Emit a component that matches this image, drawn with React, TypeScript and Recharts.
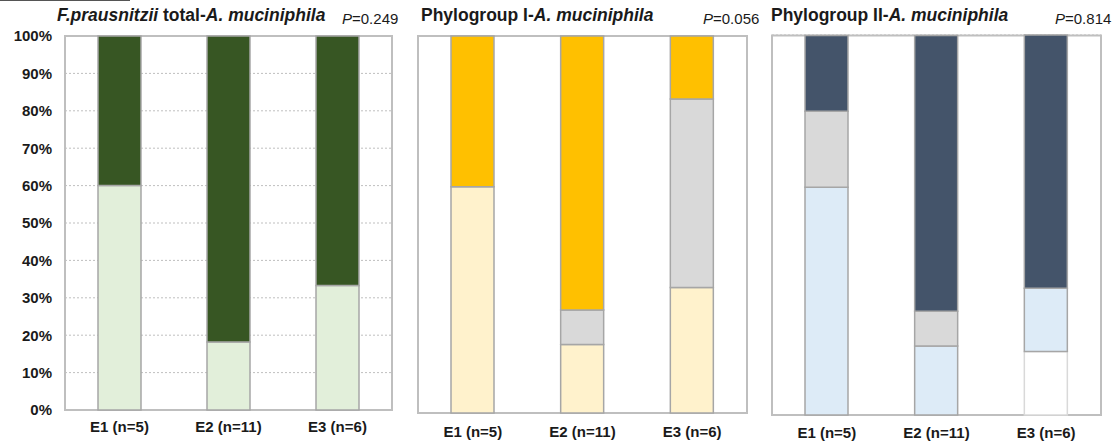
import { BarChart, Bar, XAxis, YAxis, CartesianGrid, ReferenceArea } from 'recharts'

const categories = ['E1 (n=5)', 'E2 (n=11)', 'E3 (n=6)']
const yTicks = [0, 0.1, 0.2, 0.3, 0.4, 0.5, 0.6, 0.7, 0.8, 0.9, 1]

// F. prausnitzii total
const fpLow = [0.6, 0.182, 0.333]
const fpHigh = [0.4, 0.818, 0.667]

// Phylogroup I
const pg1Low = [0.6, 0.182, 0.333]
const pg1Mid = [0, 0.091, 0.5]
const pg1High = [0.4, 0.727, 0.167]

// Phylogroup II
const pg2None = [0, 0, 0.167]
const pg2Low = [0.6, 0.182, 0.167]
const pg2Mid = [0.2, 0.091, 0]
const pg2High = [0.2, 0.727, 0.667]

const FONT = '"Liberation Sans", Arial, sans-serif'
const BAR_STROKE = '#A6A6A6'
const FRAME = '#BFBFBF'

interface Series {
  key: string
  fill: string
  stroke?: string
}

interface PanelProps {
  data: Record<string, unknown>[]
  series: Series[]
  left: number
  width: number
  top: number
  bottom: number
  plotLeft: number
  plotRight: number
  labelGap?: number
  showYTicks?: boolean
}

function Panel({ data, series, left, width, top, bottom, plotLeft, plotRight, labelGap = 5, showYTicks }: PanelProps) {
  const height = 446
  const yWidth = plotLeft - left
  return (
    <div style={{ position: 'absolute', left, top: 0 }}>
      <BarChart
        width={width}
        height={height}
        data={data}
        margin={{ top, right: left + width - plotRight, left: 0, bottom: 0 }}
        barSize={43}
      >
        <CartesianGrid vertical={false} stroke={FRAME} strokeDasharray="2 2" />
        <XAxis
          dataKey="name"
          height={height - bottom}
          axisLine={false}
          tickLine={false}
          tickMargin={labelGap}
          interval={0}
          tick={{ fontSize: 15, fontWeight: 700, fill: '#1a1a1a', fontFamily: FONT }}
        />
        <YAxis
          width={yWidth}
          domain={[0, 1]}
          ticks={yTicks}
          axisLine={false}
          tickLine={false}
          tickMargin={7}
          tick={showYTicks ? { fontSize: 15, fontWeight: 700, fill: '#1a1a1a', fontFamily: FONT } : false}
          tickFormatter={(v: number) => `${Math.round(v * 100)}%`}
        />
        {series.map((s) => (
          <Bar
            key={s.key}
            dataKey={s.key}
            stackId="a"
            fill={s.fill}
            stroke={s.stroke || BAR_STROKE}
            strokeWidth={1.5}
            isAnimationActive={false}
          />
        ))}
        <ReferenceArea y1={0} y2={1} fill="none" stroke={FRAME} strokeWidth={2} />
      </BarChart>
    </div>
  )
}

const fpData = categories.map((name, i) => ({ name, low: fpLow[i], high: fpHigh[i] }))
const pg1Data = categories.map((name, i) => ({ name, low: pg1Low[i], mid: pg1Mid[i], high: pg1High[i] }))
const pg2Data = categories.map((name, i) => ({
  name,
  none: pg2None[i],
  low: pg2Low[i],
  mid: pg2Mid[i],
  high: pg2High[i],
}))

const titleStyle = {
  position: 'absolute' as const,
  top: 5,
  fontSize: 17.5,
  fontWeight: 700,
  lineHeight: '20px',
  color: '#1a1a1a',
  whiteSpace: 'nowrap' as const,
}

const pStyle = {
  position: 'absolute' as const,
  top: 9,
  fontSize: 15,
  lineHeight: '20px',
  color: '#1a1a1a',
  whiteSpace: 'nowrap' as const,
}

export default function App() {
  return (
    <div
      style={{
        position: 'fixed',
        left: 0,
        top: 0,
        width: 1120,
        height: 446,
        background: '#fff',
        fontFamily: FONT,
        overflow: 'hidden',
      }}
    >
      <div style={{ position: 'absolute', left: 0, top: 0, width: 130, height: 1, background: '#555' }} />

      <Panel
        data={fpData}
        series={[
          { key: 'low', fill: '#E2EFDA' },
          { key: 'high', fill: '#375623' },
        ]}
        left={0}
        width={400}
        top={36}
        bottom={410}
        plotLeft={65}
        plotRight={392}
        showYTicks
      />
      <Panel
        data={pg1Data}
        series={[
          { key: 'low', fill: '#FFF2CC' },
          { key: 'mid', fill: '#D9D9D9' },
          { key: 'high', fill: '#FFC000' },
        ]}
        left={400}
        width={352}
        top={36}
        bottom={413}
        plotLeft={418}
        plotRight={747}
        labelGap={7}
      />
      <Panel
        data={pg2Data}
        series={[
          { key: 'none', fill: '#FFFFFF', stroke: '#D9D9D9' },
          { key: 'low', fill: '#DDEBF7' },
          { key: 'mid', fill: '#D9D9D9' },
          { key: 'high', fill: '#44546A' },
        ]}
        left={754}
        width={366}
        top={35}
        bottom={415}
        plotLeft={772}
        plotRight={1101}
        labelGap={6}
      />

      <div style={{ ...titleStyle, left: 57 }}>
        <i>F.prausnitzii</i> total-<i>A. muciniphila</i>
      </div>
      <div style={{ ...pStyle, left: 342 }}>
        <i>P</i>=0.249
      </div>

      <div style={{ ...titleStyle, left: 421 }}>
        Phylogroup I-<i>A. muciniphila</i>
      </div>
      <div style={{ ...pStyle, left: 703 }}>
        <i>P</i>=0.056
      </div>

      <div style={{ ...titleStyle, left: 771 }}>
        Phylogroup II-<i>A. muciniphila</i>
      </div>
      <div style={{ ...pStyle, left: 1055 }}>
        <i>P</i>=0.814
      </div>
    </div>
  )
}
